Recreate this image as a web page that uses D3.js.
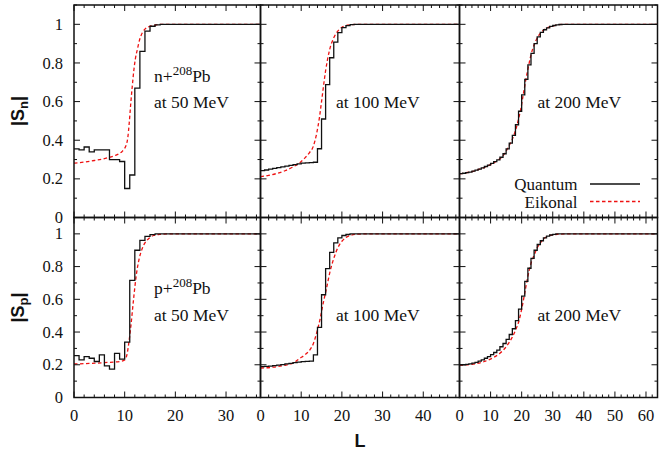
<!DOCTYPE html>
<html><head><meta charset="utf-8">
<script src="https://cdn.jsdelivr.net/npm/d3@7"></script>
<style>
html,body{margin:0;padding:0;background:#fff;}
svg{display:block;}
</style></head>
<body>
<svg id="c" width="659" height="453"></svg>
<script>
// ---------- data ----------
const energies = ["at 50 MeV", "at 100 MeV", "at 200 MeV"];
const projectiles = ["n", "p"];
const xMax = [36.8, 48.9, 63.7];
const xTicks = [[0,10,20,30],[0,10,20,30,40],[0,10,20,30,40,50,60]];
const yTicks = [0,0.2,0.4,0.6,0.8,1];
const yTickLabels = ["0","0.2","0.4","0.6","0.8","1"];

// Quantum |S| at L = 0,1,2,...
const quantumN50 = [0.355,0.35,0.365,0.34,0.35,0.35,0.35,0.30,0.30,0.29,0.15,0.22,0.67,0.86,0.965,0.99,0.997,1,1,1];
const quantumN100 = [0.243,0.246,0.25,0.254,0.258,0.262,0.266,0.27,0.274,0.278,0.281,0.283,0.284,0.286,0.356,0.51,0.688,0.827,0.908,0.957,0.983,0.993,0.998,1,1];
const quantumN200 = [0.227,0.229,0.232,0.235,0.24,0.245,0.25,0.257,0.264,0.271,0.28,0.289,0.298,0.312,0.33,0.355,0.385,0.425,0.48,0.55,0.635,0.715,0.79,0.85,0.9,0.935,0.958,0.972,0.982,0.989,0.994,0.997,0.999,1,1];
const quantumP50 = [0.256,0.23,0.25,0.24,0.22,0.26,0.193,0.173,0.27,0.235,0.338,0.716,0.9,0.96,0.985,0.995,1,1,1];
const quantumP100 = [0.189,0.19,0.192,0.195,0.198,0.201,0.205,0.209,0.213,0.216,0.219,0.221,0.222,0.26,0.428,0.628,0.787,0.887,0.945,0.975,0.99,0.996,1,1];
const quantumP200 = [0.2,0.2,0.202,0.205,0.21,0.215,0.222,0.23,0.24,0.25,0.262,0.275,0.29,0.31,0.33,0.355,0.385,0.42,0.47,0.54,0.62,0.71,0.79,0.85,0.9,0.935,0.958,0.975,0.986,0.993,0.997,1,1];

// Eikonal |S| (L, value)
const eikN50L = [0,2,4,6,8,9,9.5,10,10.3,10.6,10.9,11.2,11.5,11.8,12.1,12.5,13,13.5,14,15,16,17.5,20];
const eikN50S = [0.281,0.287,0.295,0.305,0.32,0.332,0.342,0.358,0.375,0.41,0.49,0.59,0.68,0.76,0.82,0.87,0.925,0.957,0.975,0.99,0.996,1,1];
const eikN100L = [0,2,4,6,8,10,11,12,13,13.75,14.5,15,16,17,18,19,20,21,22,24,27];
const eikN100S = [0.212,0.218,0.228,0.242,0.262,0.29,0.31,0.335,0.37,0.43,0.52,0.6,0.76,0.87,0.93,0.965,0.985,0.993,0.997,1,1];
const eikN200L = [0,4,7.3,10,12.7,14.5,15.9,17,18,19,19.7,20.5,21.3,22.1,22.9,23.7,24.5,25.5,26.7,28,29.9,33];
const eikN200S = [0.226,0.238,0.255,0.274,0.3,0.33,0.37,0.405,0.45,0.51,0.56,0.635,0.71,0.775,0.835,0.88,0.913,0.943,0.965,0.98,0.99,1];
const eikP50L = [0,3,6,9,10,10.5,10.8,11.2,11.75,12.3,12.8,13.4,14,14.7,15.7,17,19];
const eikP50S = [0.205,0.208,0.213,0.22,0.23,0.27,0.33,0.43,0.6,0.75,0.84,0.905,0.945,0.97,0.99,0.997,1];
const eikP100L = [0,3,6,8,9.7,11,12.1,13,13.75,14.6,15.4,16.2,17,18,19,20,21,22,24,27];
const eikP100S = [0.18,0.185,0.197,0.21,0.24,0.262,0.29,0.33,0.39,0.475,0.575,0.665,0.76,0.85,0.915,0.955,0.978,0.99,0.998,1];
const eikP200L = [0,4,8,11,13,15,17,18,19,20,21,22,23,24,25,26,27,28,30,32,35];
const eikP200S = [0.197,0.203,0.22,0.245,0.27,0.31,0.37,0.41,0.46,0.54,0.64,0.74,0.82,0.87,0.915,0.945,0.968,0.982,0.994,0.998,1];

const quantum = [[quantumN50,quantumN100,quantumN200],[quantumP50,quantumP100,quantumP200]];
const eikL = [[eikN50L,eikN100L,eikN200L],[eikP50L,eikP100L,eikP200L]];
const eikS = [[eikN50S,eikN100S,eikN200S],[eikP50S,eikP100S,eikP200S]];

// ---------- layout ----------
const SERIF = "'Liberation Serif','Times New Roman',Times,'DejaVu Serif',serif";
const SANS = "'Liberation Sans',Arial,Helvetica,sans-serif";
const FS = 16.5;
const colX = [[74,260.5],[260.5,459.5],[459.5,657.5]];
const rowY = [[5,217.5],[217.5,397.5]];
const svg = d3.select("#c");
const defs = svg.append("defs");

for (let r=0;r<2;r++){
  for (let c=0;c<3;c++){
    const x = d3.scaleLinear().domain([0,xMax[c]]).range(colX[c]);
    const y = d3.scaleLinear().domain([0,1.1]).range([rowY[r][1],rowY[r][0]]);
    const g = svg.append("g");
    const id = "clip"+r+c;
    defs.append("clipPath").attr("id",id).append("rect")
      .attr("x",colX[c][0]).attr("y",rowY[r][0])
      .attr("width",colX[c][1]-colX[c][0]).attr("height",rowY[r][1]-rowY[r][0]);
    const plot = g.append("g").attr("clip-path","url(#"+id+")");

    // eikonal
    const eL = eikL[r][c], eS = eikS[r][c];
    const ePts = eL.map((l,i)=>[l,eS[i]]);
    ePts.push([xMax[c], eS[eS.length-1]]);
    plot.append("path").datum(ePts)
      .attr("d", d3.line().x(d=>x(d[0])).y(d=>y(d[1])).curve(d3.curveMonotoneX))
      .attr("fill","none").attr("stroke","#ee1111").attr("stroke-width",1.3)
      .attr("stroke-dasharray","3.5,2.5");

    // quantum
    const q = quantum[r][c];
    const qPts = q.map((v,i)=>[i,v]);
    qPts.push([xMax[c], q[q.length-1]]);
    plot.append("path").datum(qPts)
      .attr("d", d3.line().x(d=>x(d[0])).y(d=>y(d[1])).curve(d3.curveStepAfter))
      .attr("fill","none").attr("stroke","#111").attr("stroke-width",1.3);

    // ticks
    const axG = g.append("g").attr("stroke","#111");
    const xMinor = d3.range(0, xMax[c]+0.001, 2);
    const yMinor = d3.range(0, 1.1001, 0.1);
    xMinor.forEach(v=>{
      const major = Math.abs(v%10)<1e-6;
      const len = major?6:3;
      axG.append("line").attr("x1",x(v)).attr("x2",x(v)).attr("y1",rowY[r][1]).attr("y2",rowY[r][1]-len).attr("stroke-width",1);
      axG.append("line").attr("x1",x(v)).attr("x2",x(v)).attr("y1",rowY[r][0]).attr("y2",rowY[r][0]+len).attr("stroke-width",1);
    });
    yMinor.forEach((v,i)=>{
      const major = i%2===0;
      const len = major?6:3;
      axG.append("line").attr("x1",colX[c][0]).attr("x2",colX[c][0]+len).attr("y1",y(v)).attr("y2",y(v)).attr("stroke-width",1);
      axG.append("line").attr("x1",colX[c][1]).attr("x2",colX[c][1]-len).attr("y1",y(v)).attr("y2",y(v)).attr("stroke-width",1);
    });
    g.append("rect").attr("x",colX[c][0]).attr("y",rowY[r][0])
      .attr("width",colX[c][1]-colX[c][0]).attr("height",rowY[r][1]-rowY[r][0])
      .attr("fill","none").attr("stroke","#111").attr("stroke-width",1.5);

    // labels
    if (c===0){
      yTicks.forEach((v,i)=>{
        g.append("text").attr("x",63).attr("y",y(v)).attr("dy","0.34em")
          .attr("text-anchor","end").attr("font-family",SERIF).attr("font-size",FS).attr("fill","#111").text(yTickLabels[i]);
      });
    }
    if (r===1){
      xTicks[c].forEach(v=>{
        g.append("text").attr("x",x(v)).attr("y",421).attr("text-anchor","middle")
          .attr("font-family",SERIF).attr("font-size",FS).attr("fill","#111").text(v);
      });
    }
    const baseY = r===0?108:320.5;
    const ex = [154,336,537.5][c];
    g.append("text").attr("x",ex).attr("y",baseY).attr("font-family",SERIF).attr("font-size",17.5).attr("fill","#111").text(energies[c]);
    if (c===0){
      const t = g.append("text").attr("x",154).attr("y",baseY-26.5).attr("font-family",SERIF).attr("font-size",17.5).attr("fill","#111");
      t.append("tspan").text(projectiles[r]+"+");
      t.append("tspan").attr("dy",-7).attr("font-size",13).text("208");
      t.append("tspan").attr("dy",7).text("Pb");
    }
  }
}

// y axis labels
const yl = [["n",111],["p",307.5]];
yl.forEach(([s,cy])=>{
  const t = svg.append("text").attr("font-family",SANS).attr("font-weight","bold").attr("font-size",18)
    .attr("fill","#111").attr("text-anchor","middle")
    .attr("transform","translate(24,"+cy+") rotate(-90)");
  t.append("tspan").text("|S");
  t.append("tspan").attr("dy",4).attr("font-size",13).text(s);
  t.append("tspan").attr("dy",-4).text("|");
});
svg.append("text").attr("font-family",SANS).attr("font-weight","bold").attr("font-size",18)
  .attr("fill","#111").attr("x",360).attr("y",447).attr("text-anchor","middle").text("L");

// legend
const legend = [["Quantum","#111",null,190],["Eikonal","#ee1111","3.5,2.5",207.5]];
legend.forEach(([name,col,dash,by])=>{
  svg.append("text").attr("x",577.5).attr("y",by).attr("text-anchor","end")
    .attr("font-family",SERIF).attr("font-size",17).attr("fill","#111").text(name);
  const ln = svg.append("line").attr("x1",590).attr("x2",640).attr("y1",by-6).attr("y2",by-6)
    .attr("stroke",col).attr("stroke-width",1.3);
  if (dash) ln.attr("stroke-dasharray",dash);
});
</script>
</body></html>
